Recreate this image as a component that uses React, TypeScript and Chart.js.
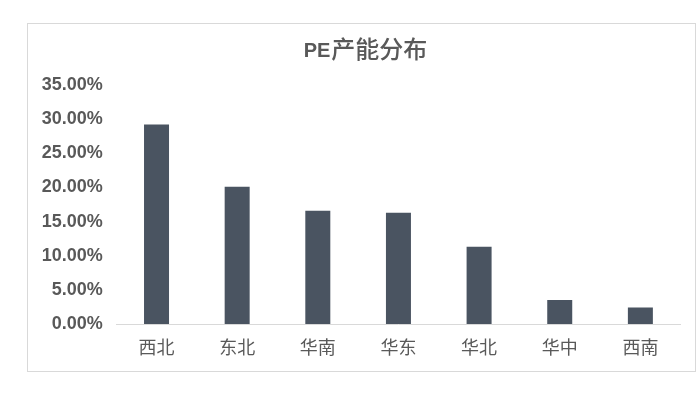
import React, { useEffect, useRef } from "react";
import { Chart, registerables } from "chart.js";

Chart.register(...registerables);

const TITLE_LATIN = "PE";
const TITLE_CJK = "产能分布";
const categories = ["西北", "东北", "华南", "华东", "华北", "华中", "西南"];
const shares = [29.2, 20.1, 16.6, 16.3, 11.3, 3.5, 2.4];
const yTickMax = 35;
const yTickStep = 5;

const GREY_TEXT = "#595959";
const BAR_COLOR = "#4a5461";
const LINE_COLOR = "#d9d9d9";

const titlePlugin = {
  id: "customTitle",
  afterDraw(chart: any) {
    const ctx = chart.ctx;
    ctx.save();
    ctx.fillStyle = GREY_TEXT;
    ctx.textBaseline = "alphabetic";
    ctx.textAlign = "left";
    const latinFont = 'bold 20px "Liberation Sans", Arial, sans-serif';
    const cjkFont = '500 24px "Noto Sans CJK SC", sans-serif';
    ctx.font = latinFont;
    const w1 = ctx.measureText(TITLE_LATIN).width;
    ctx.font = cjkFont;
    const w2 = ctx.measureText(TITLE_CJK).width;
    const cx = chart.width / 2 + 3.5;
    const x0 = cx - (w1 + w2) / 2;
    const baseline = 32.7;
    ctx.font = latinFont;
    ctx.fillText(TITLE_LATIN, x0, baseline);
    ctx.font = cjkFont;
    ctx.fillText(TITLE_CJK, x0 + w1 + 1, baseline + 1);
    ctx.restore();
  },
};

export default function App() {
  const ref = useRef<HTMLCanvasElement | null>(null);

  useEffect(() => {
    if (!ref.current) return;
    const chart = new Chart(ref.current, {
      type: "bar",
      data: {
        labels: categories,
        datasets: [
          {
            data: shares,
            backgroundColor: BAR_COLOR,
            borderWidth: 0,
            barPercentage: 0.31,
            categoryPercentage: 1,
          },
        ],
      },
      options: {
        responsive: false,
        animation: false,
        layout: { padding: { top: 61, left: 0, right: 14.3, bottom: 1.4 } },
        plugins: {
          legend: { display: false },
          title: { display: false },
          tooltip: { enabled: false },
        },
        scales: {
          x: {
            grid: { display: false, drawTicks: false },
            border: { display: true, color: LINE_COLOR, width: 1 },
            ticks: {
              color: GREY_TEXT,
              padding: 12,
              font: { family: '"Noto Sans CJK SC", sans-serif', size: 18 },
            },
          },
          y: {
            min: 0,
            max: yTickMax,
            grid: { display: false, drawTicks: false },
            border: { display: false },
            afterFit: (scale: any) => {
              scale.width = 88.2;
            },
            ticks: {
              stepSize: yTickStep,
              color: GREY_TEXT,
              padding: 13.5,
              font: { family: '"Liberation Sans", Arial, sans-serif', size: 18, weight: "bold" },
              callback: (v: any) => Number(v).toFixed(2) + "%",
            },
          },
        },
      },
      plugins: [titlePlugin],
    });
    return () => chart.destroy();
  }, []);

  return (
    <div
      style={{
        position: "absolute",
        left: 27,
        top: 23,
        width: 667,
        height: 347,
        border: `1px solid ${LINE_COLOR}`,
        background: "#fff",
      }}
    >
      <canvas ref={ref} width={667} height={347} style={{ display: "block" }} />
    </div>
  );
}
